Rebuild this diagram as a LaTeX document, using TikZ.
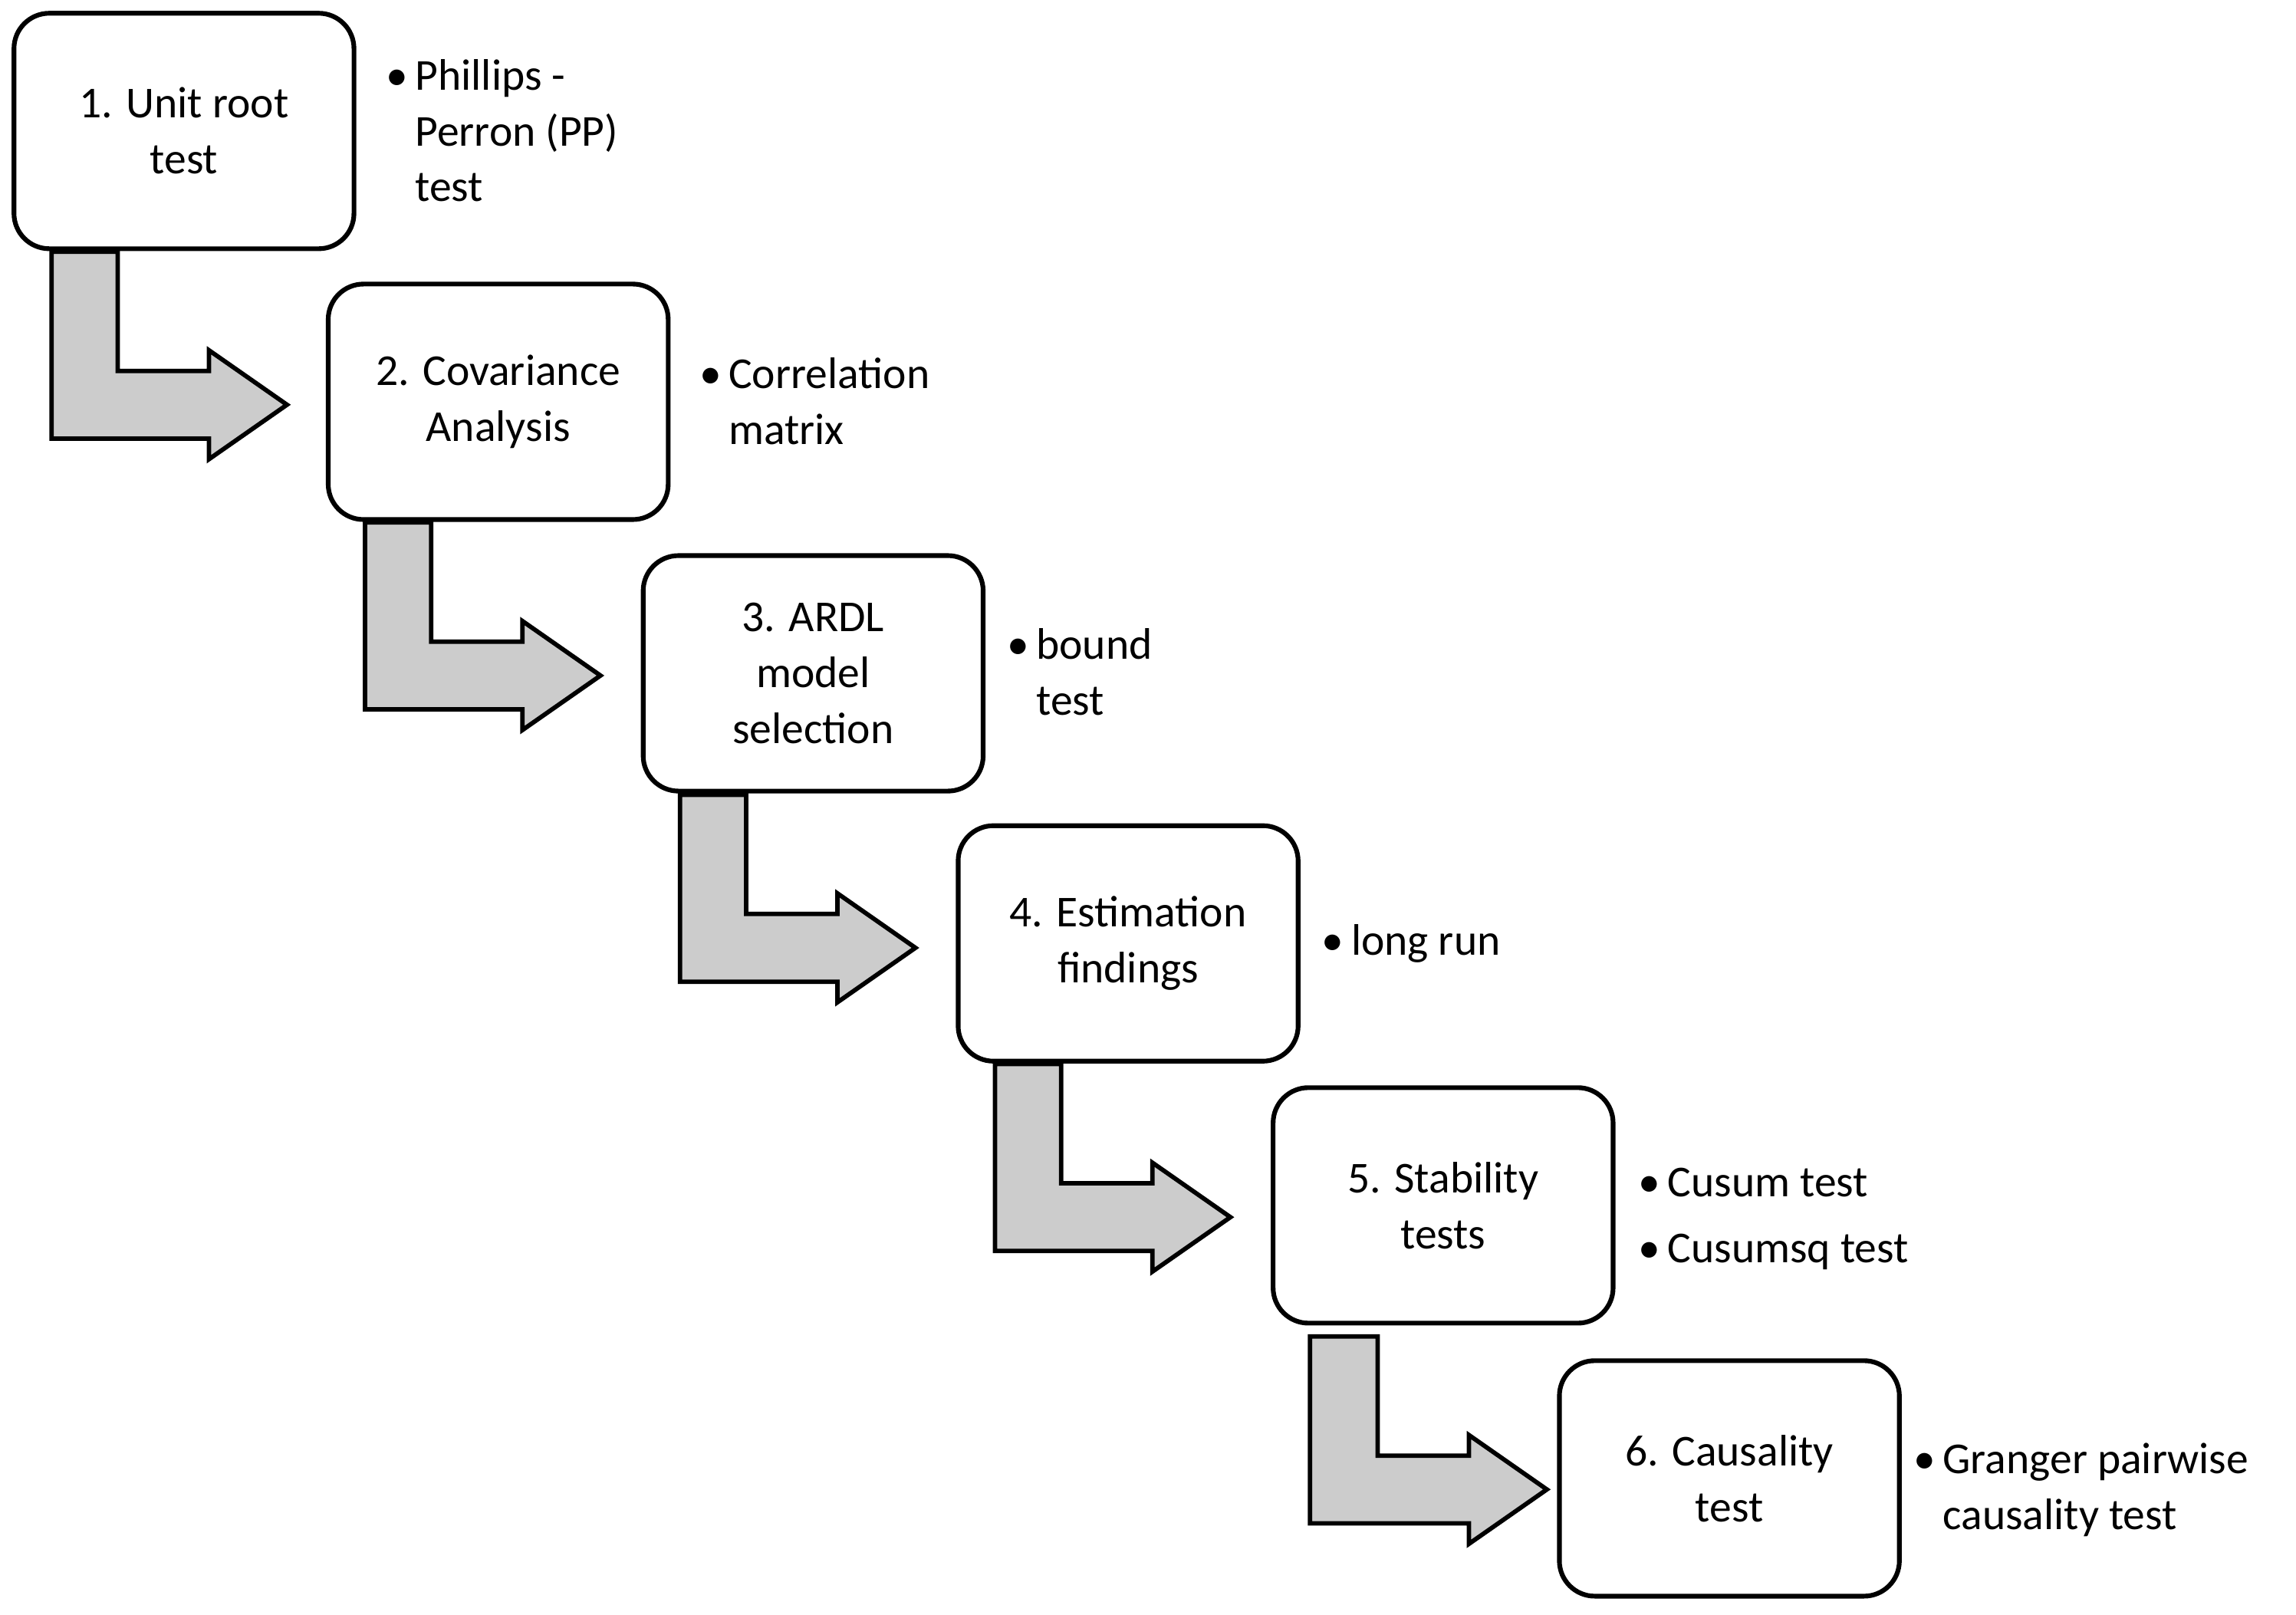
\documentclass[tikz,border=0pt]{standalone}
\usepackage{fontspec}
\setmainfont{Carlito}
\begin{document}
\begin{tikzpicture}[x=1pt,y=-1pt,
  box/.style={draw,line width=3.2pt,rounded corners=24pt,minimum width=231pt,minimum height=160pt,align=center,inner sep=0pt,font=\fontsize{30}{38}\selectfont},
  arr/.style={draw,line width=3pt,fill=black!20,line join=miter},
  lab/.style={anchor=base west,inner sep=0pt,font=\fontsize{30}{38}\selectfont}]
\useasboundingbox (0,0) rectangle (1560,1097);
\newcommand{\blockarrow}[1]{\draw[arr,shift={(#1)}] (27,0)--(72,0)--(72,81)--(134,81)--(134,67)--(187,104)--(134,141)--(134,127)--(27,127)--cycle;}
\coordinate (s1) at (8,171);
\coordinate (s2) at (221,355);
\coordinate (s3) at (435,540);
\coordinate (s4) at (649,723);
\blockarrow{s1}
\blockarrow{s2}
\blockarrow{s3}
\blockarrow{s4}
\draw[arr] (890,908)--(936,908)--(936,989)--(998,989)--(998,975)--(1051,1012)--(998,1049)--(998,1035)--(890,1035)--cycle;
\node[box,fill=white] (b1) at (125,89) {1. Unit root\\test};
\node[box,fill=white] (b2) at (338.5,273) {2. Covariance\\Analysis};
\node[box,fill=white] (b3) at (552.5,457.5) {3. ARDL\\model\\selection};
\node[box,fill=white] (b4) at (766.5,641) {4. Estimation\\findings};
\node[box,fill=white] (b5) at (980.5,819) {5. Stability\\tests};
\node[box,fill=white] (b6) at (1175,1004.5) {6. Causality\\test};
\node[lab] (t1) at (262,61) {\begin{tabular}[t]{@{}l@{\,}l@{}}•&Phillips -\\&Perron (PP)\\&test\end{tabular}};
\node[lab] (t2) at (475,264) {\begin{tabular}[t]{@{}l@{\,}l@{}}•&Correlation\\&matrix\end{tabular}};
\node[lab] (t3) at (684,448) {\begin{tabular}[t]{@{}l@{\,}l@{}}•&bound\\&test\end{tabular}};
\node[lab] (t4) at (898,649) {•\,long run};
\node[lab] (t5) at (1113,813) {•\,Cusum test};
\node[lab] (t5b) at (1113,858) {•\,Cusumsq test};
\node[lab] (t6) at (1300,1001) {\begin{tabular}[t]{@{}l@{\,}l@{}}•&Granger pairwise\\&causality test\end{tabular}};
\end{tikzpicture}
\end{document}
